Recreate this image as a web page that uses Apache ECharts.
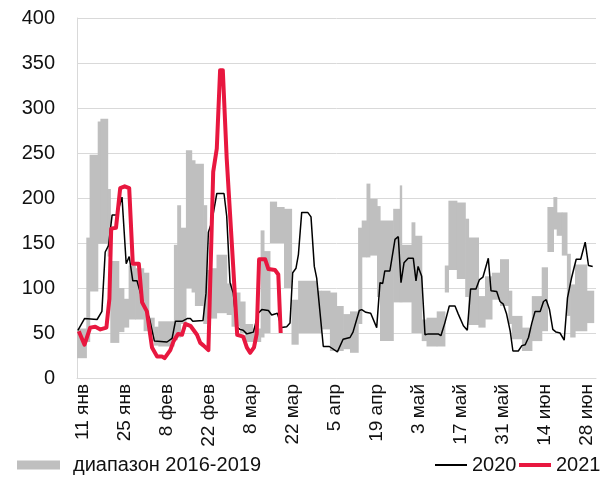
<!DOCTYPE html>
<html>
<head>
<meta charset="utf-8">
<script src="https://cdn.jsdelivr.net/npm/echarts@6/dist/echarts.min.js"></script>
<style>
  html, body { margin: 0; padding: 0; background: #fff; }
  #chart { width: 602px; height: 501px; }
</style>
</head>
<body>
<div id="chart"></div>
<script>
// день 0 = 9 янв, шаг оси = 1 день
var tickDays = [2, 16, 30, 44, 58, 72, 86, 100, 114, 128, 142, 156, 170];
var tickLabels = ["11 янв", "25 янв", "8 фев", "22 фев", "8 мар", "22 мар", "5 апр",
  "19 апр", "3 май", "17 май", "31 май", "14 июн", "28 июн"];

// диапазон 2016-2019: ступеньки (начало, низ, верх)
var bandStart = [0, 3.1, 4.2, 6.9, 7.8, 10.2, 11.1, 13.9, 15.6, 17.2, 19.4, 22.2, 23.9, 25.7, 27.1,
  32.3, 33.4, 34.5, 36.3, 38.2, 39.3, 42.1, 43.2, 44.3, 46.5, 49.9, 51.5, 54.3, 56, 58.5, 61.2, 62.3,
  64.3, 66.5, 69, 71.5, 73.7, 79.9, 81.5, 84.3, 86.5, 88.7, 91, 93.7, 94.9, 96.5, 97.6, 100, 101,
  105.4, 107.6, 108.2, 111.5, 112.6, 114.9, 116.5, 119.9, 122.6, 123.8, 126.6, 129.4, 130.5, 133.8,
  136, 138.3, 141, 143.8, 144.9, 148.3, 151.6, 154.9, 156.8, 158.8, 159.9, 161.6, 163.3, 164.4, 166, 169.9];
var bandEnd = 172.2;
var bandLow = [22, 40, 96, 149, 149, 135, 39, 51, 56, 65, 65, 52, 48, 36, 35,
  42, 45, 60, 100, 95, 80, 60, 66, 66, 72, 70, 57, 50, 40, 40, 45, 50,
  150, 150, 100, 37, 50, 50, 54, 30, 30, 32, 28, 60, 134, 134, 136, 90, 41,
  84, 84, 84, 50, 50, 41, 35, 35, 95, 120, 110, 90, 59, 56,
  65, 87, 80, 60, 43, 30, 41, 52, 140, 165, 158, 136, 69, 45, 52, 61];
var bandHigh = [55, 156, 248, 285, 288, 210, 130, 100, 88, 125, 122, 117, 67, 57, 63,
  148, 192, 167, 253, 242, 238, 192, 120, 122, 137, 105, 95, 85, 60, 55, 164, 141,
  196, 190, 188, 87, 108, 97, 97, 95, 80, 71, 74, 167, 175, 216, 199, 191, 175,
  188, 214, 148, 173, 158, 65, 67, 74, 125, 197, 195, 177, 156, 91,
  113, 117, 132, 97, 69, 56, 91, 123, 190, 201, 184, 184, 138, 104, 126, 97];

var days2020 = [0.3, 2.5, 6.7, 8.3, 9.4, 10.5, 11.7, 13.3, 15, 16.4, 17.4, 18.6, 20, 22.2, 24.1, 25.8,
  30, 31.7, 32.8, 35, 36.7, 37.8, 38.6, 42, 43, 43.8, 44.9, 46.6, 49, 49.9, 51, 52.1, 53.2, 54.3,
  55.4, 56.6, 57.7, 58.8, 60.4, 61.6, 63.8, 64.9, 66.8, 68.2, 69.9, 71, 71.9, 73, 73.8, 74.9, 76.9,
  78, 79.1, 79.9, 82.1, 84.1, 86.8, 88.7, 91, 92, 94.1, 94.9, 96.3, 97.9, 99.9, 101, 101.9, 102.6,
  104.3, 106, 107.1, 108, 109, 110.4, 112.1, 113, 113.7, 114.9, 116, 117.1, 120.4, 121.3, 122.6,
  124.1, 126, 127.1, 128.8, 130.1, 131.2, 133, 134.1, 135.3, 137.1, 138, 139.9, 141, 142.1, 143.2,
  144.4, 145.3, 147.1, 148.3, 149.4, 150.5, 151.6, 152.7, 154.4, 155.5, 156.4, 157.5, 158.6, 159.7,
  161, 162.4, 163.5, 164.9, 166.4, 167.9, 169.4, 170.5, 171.9];
var vals2020 = [53, 66, 65, 74, 140, 147, 181, 181, 201, 127, 135, 108, 108, 82, 67, 41,
  40, 44, 63, 63, 66, 66, 63, 64, 94, 162, 173, 205, 205, 180, 106, 94, 57, 54,
  53, 49, 50, 51, 72, 76, 75, 70, 72, 56, 57, 61, 117, 122, 137, 184, 184,
  179, 124, 111, 35, 35, 29, 43, 45, 51, 75, 76, 73, 72, 56, 106, 105, 119,
  119, 154, 157, 106, 128, 133, 133, 108, 124, 113, 48, 49, 49, 47, 61,
  80, 80, 71, 58, 53, 99, 99, 109, 112, 133, 97, 96, 85, 82, 71,
  52, 30, 30, 36, 37, 45, 61, 74, 74, 85, 87, 76, 54, 51,
  50, 42, 89, 112, 132, 132, 151, 125, 124];

var days2021 = [0.6, 2.5, 4.4, 6.1, 7.8, 9.8, 10.8, 11.4, 13, 14.4, 15.9, 17.4, 18.6, 20.6, 21.7,
  23.3, 25, 26.7, 28.3, 29.2, 31.1, 32.2, 33.7, 35, 36.1, 37.8, 40, 41.1, 42.2, 43.8, 45.4, 46.6,
  47.7, 48.6, 49.9, 52.1, 53.4, 55.4, 56.6, 57.7, 59, 59.9, 60.7, 62.7, 63.8, 66, 67.1, 67.9];
var vals2021 = [52, 37, 56, 57, 54, 56, 88, 166, 167, 211, 213, 211, 127, 127, 84,
  74, 34, 24, 24, 22, 31, 41, 49, 48, 60, 58, 48, 39, 36, 31, 229, 255,
  342, 342, 244, 122, 48, 46, 34, 28, 34, 49, 132, 132, 121, 120, 115, 50];

function zip(a, b) {
  return a.map(function (d, i) { return [d, b[i]]; });
}

var bandData = bandStart.map(function (d, i) {
  var end = i < bandStart.length - 1 ? bandStart[i + 1] : bandEnd;
  return [d, end, bandLow[i], bandHigh[i]];
});

var font = "'Liberation Sans', Arial, sans-serif";
var chart = echarts.init(document.getElementById("chart"));

var option = {
  animation: false,
  textStyle: { fontFamily: font },
  grid: { left: 77, right: 6, top: 18, bottom: 123 },
  legend: [
    {
      data: [{ name: "диапазон 2016-2019", icon: "rect" }],
      left: 12, top: 450, itemWidth: 43, itemHeight: 9, itemGap: 6,
      textStyle: { fontSize: 20, color: "#111", fontFamily: font, padding: [0, 0, 0, 8] }
    },
    {
      data: [{ name: "2020", icon: "rect" }],
      left: 430, top: 450, itemWidth: 32, itemHeight: 2, itemGap: 4,
      textStyle: { fontSize: 20, color: "#111", fontFamily: font }
    },
    {
      data: [{ name: "2021", icon: "rect" }],
      left: 514, top: 450, itemWidth: 32, itemHeight: 4, itemGap: 4,
      textStyle: { fontSize: 20, color: "#111", fontFamily: font }
    }
  ],
  xAxis: {
    type: "value",
    min: 0,
    max: 173,
    axisLine: { show: true, lineStyle: { color: "#d9d9d9", width: 1 } },
    axisTick: { show: false },
    splitLine: { show: false },
    axisLabel: {
      customValues: tickDays,
      rotate: 90,
      margin: 6,
      fontSize: 19,
      color: "#111",
      fontFamily: font,
      formatter: function (v) {
        var i = tickDays.indexOf(v);
        return i >= 0 ? tickLabels[i] : "";
      }
    }
  },
  yAxis: {
    type: "value",
    min: 0,
    max: 400,
    interval: 50,
    axisLine: { show: true, lineStyle: { color: "#d9d9d9", width: 1 } },
    axisTick: { show: false },
    splitLine: { lineStyle: { color: "#d9d9d9", width: 1 } },
    axisLabel: { fontSize: 20, color: "#111", margin: 22, fontFamily: font }
  },
  series: [
    {
      name: "диапазон 2016-2019",
      type: "custom",
      itemStyle: { color: "#bfbfbf" },
      encode: { x: [0, 1], y: [2, 3] },
      data: bandData,
      z: 1,
      renderItem: function (params, api) {
        var p0 = api.coord([api.value(0), api.value(3)]);
        var p1 = api.coord([api.value(1), api.value(2)]);
        return {
          type: "rect",
          shape: { x: p0[0], y: p0[1], width: p1[0] - p0[0] + 0.6, height: p1[1] - p0[1] },
          style: { fill: "#bfbfbf" }
        };
      }
    },
    {
      name: "2020",
      type: "line",
      data: zip(days2020, vals2020),
      showSymbol: false,
      z: 2,
      itemStyle: { color: "#000" },
      lineStyle: { color: "#000", width: 1.5 }
    },
    {
      name: "2021",
      type: "line",
      data: zip(days2021, vals2021),
      showSymbol: false,
      z: 3,
      itemStyle: { color: "#e8173f" },
      lineStyle: { color: "#e8173f", width: 4, join: "round" }
    }
  ]
};

chart.setOption(option);
</script>
</body>
</html>
